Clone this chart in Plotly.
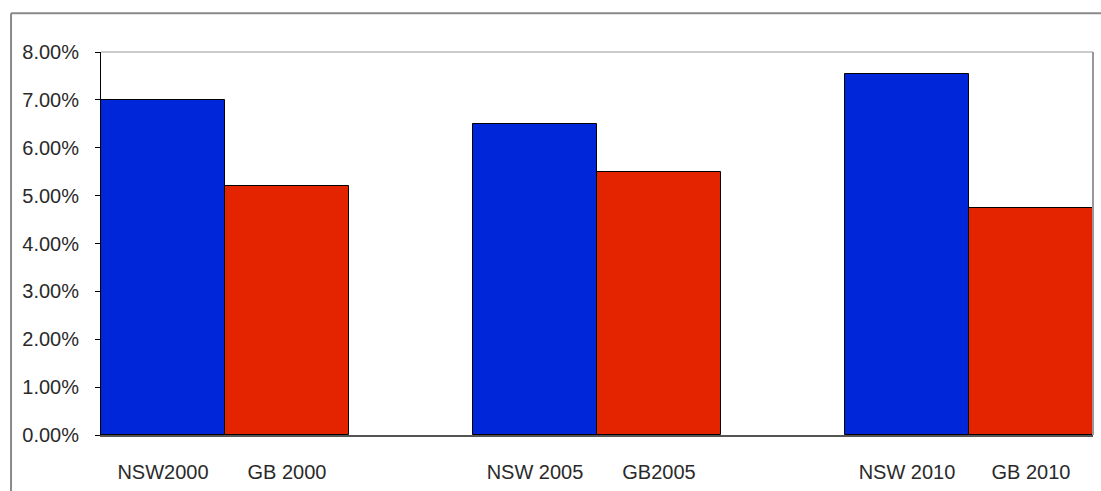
import plotly.graph_objects as go

# Categories (blank slots separate the year groups)
categories = ["NSW2000", "GB 2000", " ", "NSW 2005", "GB2005", "  ", "NSW 2010", "GB 2010"]
rates = [0.0700, 0.0520, None, 0.0650, 0.0550, None, 0.0755, 0.0475]
bar_colors = ["#0026d9", "#e42300", "#ffffff", "#0026d9", "#e42300", "#ffffff", "#0026d9", "#e42300"]
y_ticks = [0.00, 0.01, 0.02, 0.03, 0.04, 0.05, 0.06, 0.07, 0.08]

fig = go.Figure(
    go.Bar(
        x=categories,
        y=rates,
        marker=dict(color=bar_colors, line=dict(color="#000000", width=1)),
        hoverinfo="x+y",
    )
)

font = dict(family="Liberation Sans, Arial, sans-serif", size=20, color="#2a2a2a")

fig.update_layout(
    width=1101,
    height=491,
    margin=dict(l=101, r=8, t=52, b=53),
    paper_bgcolor="#ffffff",
    plot_bgcolor="#ffffff",
    bargap=0,
    showlegend=False,
    font=font,
    xaxis=dict(
        type="category",
        categoryorder="array",
        categoryarray=categories,
        range=[-0.5, 7.5],
        showgrid=False,
        showline=True,
        linecolor="#555555",
        linewidth=2,
        ticks="",
        ticklabelstandoff=18,
        tickfont=font,
    ),
    yaxis=dict(
        range=[0, 0.08],
        tickvals=y_ticks,
        tickformat=".2%",
        showgrid=False,
        showline=True,
        linecolor="#000000",
        linewidth=1,
        ticks="outside",
        ticklen=5,
        tickcolor="#000000",
        ticklabelstandoff=12,
        zeroline=False,
        tickfont=font,
    ),
    shapes=[
        # plot-area frame: top and right edges
        dict(type="line", xref="paper", yref="paper", x0=0, x1=1, y0=1, y1=1,
             line=dict(color="#cccccc", width=2)),
        dict(type="line", xref="paper", yref="paper", x0=1, x1=1, y0=0, y1=1,
             line=dict(color="#999999", width=2)),
        # outer chart border (top and left)
        dict(type="line", xref="paper", yref="paper", x0=-0.0907, x1=1.02, y0=1.101, y1=1.101,
             line=dict(color="#8a8a8a", width=2)),
        dict(type="line", xref="paper", yref="paper", x0=-0.0907, x1=-0.0907, y0=-0.2, y1=1.101,
             line=dict(color="#8a8a8a", width=2)),
    ],
)

fig.write_html("out.html")
